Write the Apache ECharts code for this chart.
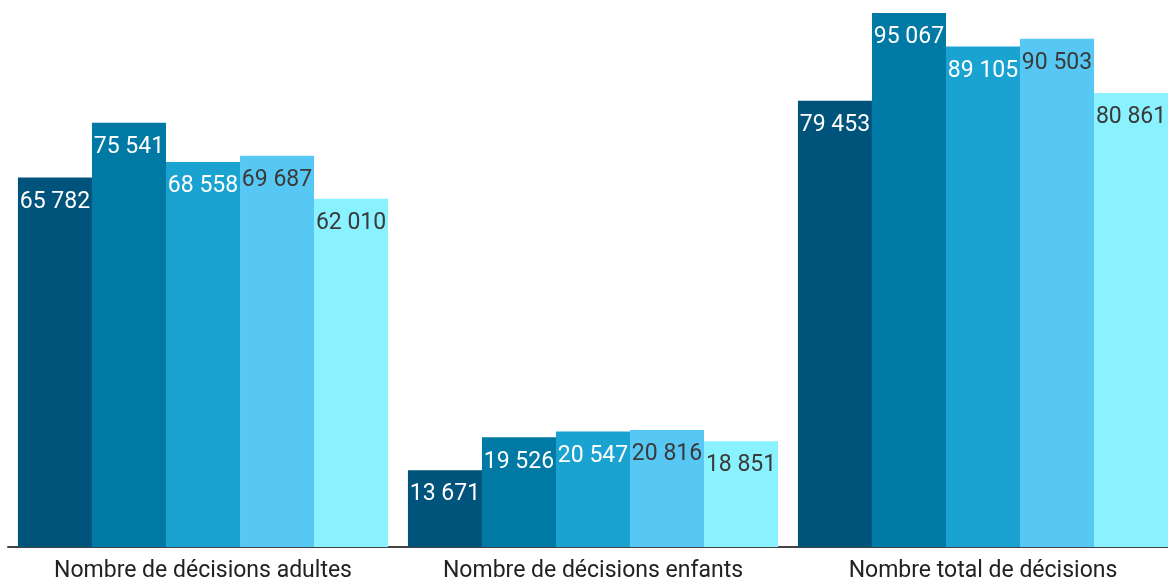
<!DOCTYPE html>
<html>
<head>
<meta charset="utf-8">
<script src="https://cdn.jsdelivr.net/npm/echarts@6/dist/echarts.min.js"></script>
<style>
  html, body { margin: 0; padding: 0; background: #ffffff; }
  #chart { width: 1168px; height: 583px; }
</style>
</head>
<body>
<div id="chart"></div>
<script>
// Categories along the x axis
const categories = [
  'Nombre de décisions adultes',
  'Nombre de décisions enfants',
  'Nombre total de décisions'
];

// One series per year (five yearly bars per category)
const serie1 = [65782, 13671, 79453];
const serie2 = [75541, 19526, 95067];
const serie3 = [68558, 20547, 89105];
const serie4 = [69687, 20816, 90503];
const serie5 = [62010, 18851, 80861];

const seriesValues = [serie1, serie2, serie3, serie4, serie5];
const colors = ['#00537a', '#0079a5', '#1aa3d1', '#57c8f4', '#8af1ff'];
const labelColors = ['#ffffff', '#ffffff', '#ffffff', '#3a3a3a', '#3a3a3a'];

// French thousands separator: a space between groups of three digits
function fmt(v) {
  return String(v).replace(/\B(?=(\d{3})+(?!\d))/g, ' ');
}

const chart = echarts.init(document.getElementById('chart'));
chart.setOption({
  animation: false,
  backgroundColor: '#ffffff',
  grid: {
    left: 8, right: -10, top: 0, bottom: 36,
    containLabel: false,
    outerBoundsMode: 'none'
  },
  xAxis: {
    type: 'category',
    data: categories,
    axisLine: { lineStyle: { color: '#444444', width: 2 } },
    axisTick: { show: false },
    axisLabel: {
      interval: 0,
      color: '#222222',
      fontFamily: 'Roboto',
      fontSize: 23,
      margin: 13
    }
  },
  yAxis: {
    type: 'value',
    min: 0,
    max: 97400,
    show: false,
    splitLine: { show: false }
  },
  series: seriesValues.map((vals, i) => ({
    type: 'bar',
    data: vals,
    barGap: '0%',
    barCategoryGap: '5.1%',
    itemStyle: { color: colors[i] },
    label: {
      show: true,
      position: 'insideTop',
      distance: 13,
      color: labelColors[i],
      fontFamily: 'Roboto',
      fontSize: 23,
      formatter: p => fmt(p.value)
    }
  }))
});
</script>
</body>
</html>
